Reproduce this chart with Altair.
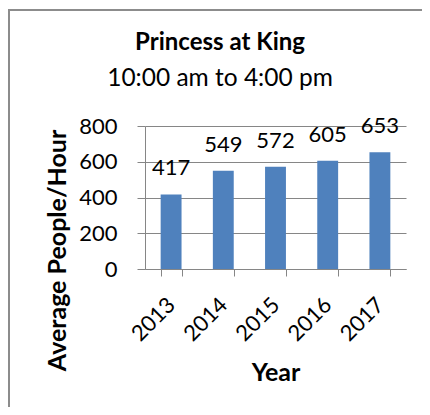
import altair as alt
import pandas as pd

years = ["2013", "2014", "2015", "2016", "2017"]
values = [417, 549, 572, 605, 653]
y_ticks = [0, 200, 400, 600, 800]
title_text = "Princess at King"
subtitle_text = "10:00 am to 4:00 pm"
x_title = "Year"
y_title = "Average People/Hour"

df = pd.DataFrame({"Year": years, "Value": values})

FONT = "Lato"
BLUE = "#4F81BD"
GRAY = "#868686"
FS = 22
TFS = 25

x_enc = alt.X(
    "Year:N",
    sort=years,
    scale=alt.Scale(paddingInner=0.6, paddingOuter=0.3),
    axis=alt.Axis(
        title=x_title,
        labelAngle=-45,
        labelAlign="right",
        labelBaseline="middle",
        labelPadding=25,
        labelOverlap=False,
        tickBand="extent",
        tickSize=7,
        titleY=103,
        titleBaseline="middle",
    ),
)
y_enc = alt.Y(
    "Value:Q",
    scale=alt.Scale(domain=[0, 800]),
    axis=alt.Axis(
        values=y_ticks,
        title=y_title,
        tickSize=8,
        labelPadding=20,
        labelOverlap=False,
        grid=True,
        titleX=-88,
        titleY=124,
        titleAngle=-90,
        titleAlign="center",
        titleBaseline="middle",
    ),
)

base = alt.Chart(df)
bars = base.mark_bar(color=BLUE).encode(x=x_enc, y=y_enc)
labels = base.mark_text(
    font=FONT, fontSize=FS, color="black", baseline="alphabetic", dy=-19
).encode(x=x_enc, y=y_enc, text="Value:Q")

tdf = pd.DataFrame({"t": [title_text], "s": [subtitle_text]})
title_mark = alt.Chart(tdf).mark_text(
    font=FONT, fontSize=24, fontWeight="bold", align="center", baseline="alphabetic", color="black"
).encode(x=alt.value(75), y=alt.value(-76), text="t:N")
subtitle_mark = alt.Chart(tdf).mark_text(
    font=FONT, fontSize=24.5, align="center", baseline="alphabetic", color="black"
).encode(x=alt.value(75), y=alt.value(-40), text="s:N")

bdf = pd.DataFrame({"a": [0]})
border_top = alt.Chart(bdf).mark_rule(color="#8c8c8c", strokeWidth=2).encode(
    x=alt.value(-136), x2=alt.value(300), y=alt.value(-116)
)
border_left = alt.Chart(bdf).mark_rule(color="#8c8c8c", strokeWidth=2).encode(
    x=alt.value(-136), y=alt.value(-117), y2=alt.value(300)
)

chart = (
    alt.layer(bars, labels, title_mark, subtitle_mark, border_top, border_left)
    .properties(
        width=261,
        height=143,
        autosize=alt.AutoSizeParams(type="none"),
        padding={"left": 137, "top": 118, "right": 16, "bottom": 138},
    )
    .configure_view(stroke=None)
    .configure_axis(
        labelFont=FONT,
        labelFontSize=FS,
        labelColor="black",
        titleFont=FONT,
        titleFontSize=TFS,
        titleFontWeight="bold",
        titleColor="black",
        domainColor=GRAY,
        tickColor=GRAY,
        gridColor=GRAY,
        gridOpacity=1,
        domainWidth=1,
        tickWidth=1,
        gridWidth=1,
    )
)

chart.save("out.html", embed_options={"renderer": "svg", "actions": False})
